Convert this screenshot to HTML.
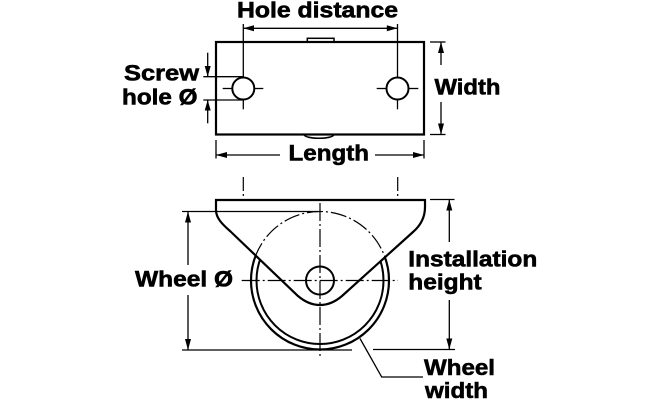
<!DOCTYPE html>
<html>
<head>
<meta charset="utf-8">
<style>
  html, body { margin:0; padding:0; background:#fff; }
  svg { display:block; }
  text { font-family: "Liberation Sans", Arial, sans-serif; font-weight: bold; font-size: 22.5px; fill:#000; stroke:#000; stroke-width:0.6px; }
</style>
</head>
<body>
<svg width="660" height="400" viewBox="0 0 660 400" xmlns="http://www.w3.org/2000/svg">
  <defs>
    <clipPath id="br">
      <path d="M216,200 H425 V207 C425,218 420,226 413,232 L342,296 C335,302 328,305 320,305 C312,305 305,302 298,296 L230,231 C222,224 216,218 216,210 Z"/>
    </clipPath>
  </defs>
  <rect width="660" height="400" fill="#fff"/>

  <!-- ============ TOP VIEW ============ -->
  <rect x="307.3" y="38.3" width="26.7" height="3.7" fill="#fff" stroke="#000" stroke-width="1.5"/>
  <rect x="216" y="42" width="208" height="92.5" fill="none" stroke="#000" stroke-width="2.2"/>
  <path d="M304,134.5 C305,139.5 333,139.5 334,134.5" fill="none" stroke="#000" stroke-width="1.6"/>

  <circle cx="243.3" cy="88.5" r="11" fill="none" stroke="#000" stroke-width="2"/>
  <circle cx="397.5" cy="88.5" r="11" fill="none" stroke="#000" stroke-width="2"/>
  <g stroke="#000" stroke-width="1.3" fill="none">
    <line x1="222.7" y1="88.5" x2="232.3" y2="88.5"/>
    <line x1="254.3" y1="88.5" x2="263.3" y2="88.5"/>
    <line x1="243.3" y1="24" x2="243.3" y2="77.5"/>
    <line x1="243.3" y1="99.5" x2="243.3" y2="109.3"/>
    <line x1="376.7" y1="88.5" x2="386.5" y2="88.5"/>
    <line x1="408.5" y1="88.5" x2="418.3" y2="88.5"/>
    <line x1="397.5" y1="24" x2="397.5" y2="77.5"/>
    <line x1="397.5" y1="99.5" x2="397.5" y2="109.3"/>

    <line x1="243.3" y1="28.3" x2="397.5" y2="28.3"/>

    <line x1="203.3" y1="76.7" x2="243" y2="76.7"/>
    <line x1="203.3" y1="100" x2="243" y2="100"/>
    <line x1="207.7" y1="52.7" x2="207.7" y2="76.7"/>
    <line x1="207.7" y1="100" x2="207.7" y2="123.3"/>

    <line x1="430" y1="42" x2="445.5" y2="42"/>
    <line x1="430" y1="134.5" x2="445.5" y2="134.5"/>
    <line x1="441" y1="42" x2="441" y2="65"/>
    <line x1="441" y1="102" x2="441" y2="134.5"/>

    <line x1="216" y1="140" x2="216" y2="158.5"/>
    <line x1="424" y1="140" x2="424" y2="158.5"/>
    <line x1="216" y1="155" x2="280" y2="155"/>
    <line x1="375" y1="155" x2="424" y2="155"/>
  </g>
  <g fill="#000">
    <polygon points="243.3,28.3 254,25.3 254,31.3"/>
    <polygon points="397.5,28.3 386.8,25.3 386.8,31.3"/>
    <polygon points="207.7,76.7 204.7,66 210.7,66"/>
    <polygon points="207.7,100 204.7,110.5 210.7,110.5"/>
    <polygon points="441,42 438,53 444,53"/>
    <polygon points="441,134.5 438,123.5 444,123.5"/>
    <polygon points="216,155 227,152 227,158"/>
    <polygon points="424,155 413,152 413,158"/>
  </g>

  <!-- ============ SIDE VIEW ============ -->
  <g stroke="#000" stroke-width="1.2" stroke-dasharray="14 3 2 3" fill="none">
    <line x1="243.3" y1="177" x2="243.3" y2="208"/>
    <line x1="397.7" y1="177" x2="397.7" y2="208"/>
  </g>

  <circle cx="320" cy="280.5" r="69" fill="none" stroke="#000" stroke-width="2.2"/>
  <circle cx="320" cy="280.5" r="63.5" fill="none" stroke="#000" stroke-width="2"/>

  <path d="M216,200 H425 V207 C425,218 420,226 413,232 L342,296 C335,302 328,305 320,305 C312,305 305,302 298,296 L230,231 C222,224 216,218 216,210 Z" fill="#fff" stroke="#000" stroke-width="2.2"/>

  <g clip-path="url(#br)">
    <circle cx="320" cy="280.5" r="69" fill="none" stroke="#000" stroke-width="1.2" stroke-dasharray="16 3 2 3"/>
  </g>

  <circle cx="320" cy="280.5" r="14" fill="none" stroke="#000" stroke-width="2"/>

  <g stroke="#000" stroke-width="1.2" stroke-dasharray="18 3 2 3" fill="none">
    <line x1="320" y1="203" x2="320" y2="357"/>
    <line x1="241.7" y1="280.5" x2="398" y2="280.5"/>
  </g>

  <g stroke="#000" stroke-width="1.3" fill="none">
    <line x1="182" y1="211.5" x2="318" y2="211.5"/>
    <line x1="182" y1="350" x2="352" y2="350"/>
    <line x1="188" y1="211.5" x2="188" y2="265"/>
    <line x1="188" y1="295" x2="188" y2="350"/>

    <line x1="430" y1="199.5" x2="454.5" y2="199.5"/>
    <line x1="373" y1="349.5" x2="455" y2="349.5"/>
    <line x1="449.3" y1="199.5" x2="449.3" y2="242"/>
    <line x1="449.3" y1="300" x2="449.3" y2="349.5"/>

    <polyline points="360,338.5 381.7,377 423,377"/>
  </g>
  <g fill="#000">
    <polygon points="188,211.5 185,222.5 191,222.5"/>
    <polygon points="188,350 185,339 191,339"/>
    <polygon points="449.3,199.5 446.3,210.5 452.3,210.5"/>
    <polygon points="449.3,349.5 446.3,338.5 452.3,338.5"/>
  </g>

  <!-- ============ LABELS ============ -->
  <text x="237" y="17.5" textLength="161" lengthAdjust="spacingAndGlyphs">Hole distance</text>
  <text x="124" y="80.5" textLength="75" lengthAdjust="spacingAndGlyphs">Screw</text>
  <text x="122" y="104.3" textLength="75.5" lengthAdjust="spacingAndGlyphs">hole Ø</text>
  <text x="434.5" y="94.3" textLength="66" lengthAdjust="spacingAndGlyphs">Width</text>
  <text x="288.5" y="160.7" textLength="80.5" lengthAdjust="spacingAndGlyphs">Length</text>
  <text x="135" y="286.7" textLength="98" lengthAdjust="spacingAndGlyphs">Wheel Ø</text>
  <text x="408.3" y="266.7" textLength="129" lengthAdjust="spacingAndGlyphs">Installation</text>
  <text x="408.3" y="289.3" textLength="73.4" lengthAdjust="spacingAndGlyphs">height</text>
  <text x="424" y="375" textLength="71" lengthAdjust="spacingAndGlyphs">Wheel</text>
  <text x="425" y="398" textLength="63" lengthAdjust="spacingAndGlyphs">width</text>
</svg>
</body>
</html>
